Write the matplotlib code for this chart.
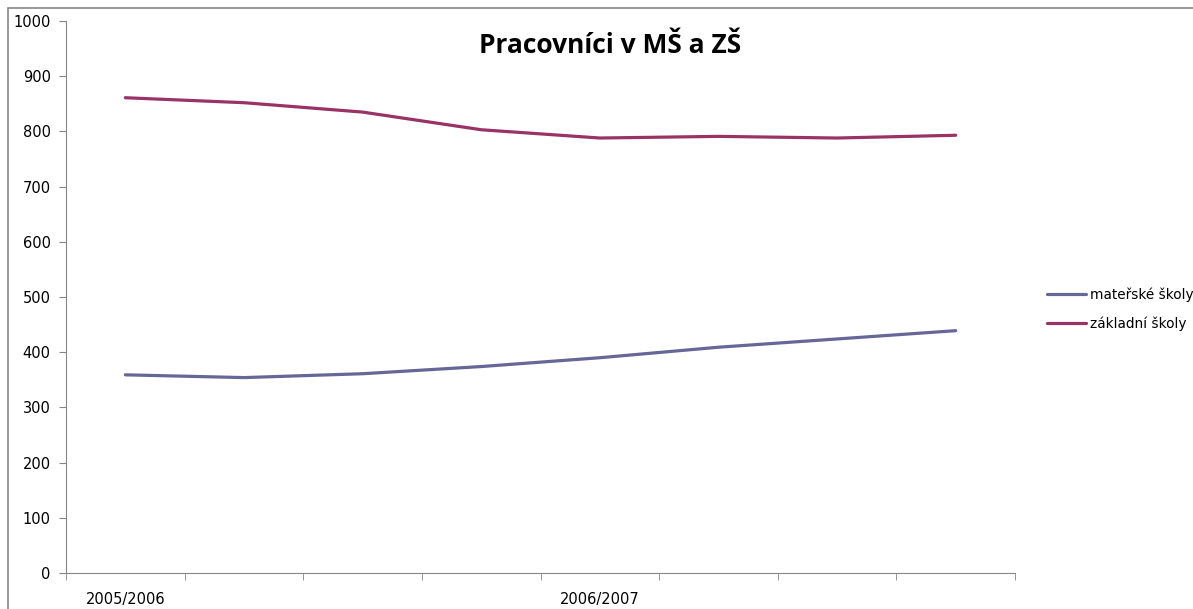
import matplotlib
matplotlib.use('Agg')
import matplotlib.pyplot as plt
from matplotlib.patches import Rectangle

# počty pracovníků podle období
periods = ['2005/2006', '', '', '', '2006/2007', '', '', '']
materske = [359, 354, 361, 374, 390, 409, 424, 439]
zakladni = [861, 852, 835, 803, 788, 791, 788, 793]

series_names = ['mateřské školy', 'základní školy']
series_colors = ['#666699', '#993366']

fig = plt.figure(figsize=(11.93, 6.09), dpi=100)
ax = fig.add_axes([66 / 1193, 36 / 609, 949 / 1193, 552 / 609])

x = list(range(len(periods)))
ax.plot(x, materske, color=series_colors[0], lw=2.3, label=series_names[0],
        solid_capstyle='round', solid_joinstyle='round')
ax.plot(x, zakladni, color=series_colors[1], lw=2.3, label=series_names[1],
        solid_capstyle='round', solid_joinstyle='round')

ax.set_xlim(-0.5, len(periods) - 0.5)
ax.set_ylim(0, 1000)
ax.set_yticks(range(0, 1001, 100))

# popisky kategorií uprostřed, značky na hranicích kategorií
ax.set_xticks(x)
ax.set_xticklabels(periods)
ax.set_xticks([i - 0.5 for i in range(len(periods) + 1)], minor=True)
ax.tick_params(axis='x', which='major', length=0, pad=14, labelsize=10.5)
ax.tick_params(axis='x', which='minor', length=5, color='#868686', direction='out')
ax.tick_params(axis='y', length=5, color='#868686', labelsize=10.5, pad=6)

for side in ['top', 'right']:
    ax.spines[side].set_visible(False)
for side in ['left', 'bottom']:
    ax.spines[side].set_color('#868686')

fig.text(0.511, 0.925, 'Pracovníci v MŠ a ZŠ', ha='center', va='center',
         fontsize=19, fontweight='bold', family='Open Sans')

ax.legend(loc='center left', bbox_to_anchor=(1.028, 0.478), frameon=False,
          fontsize=9.8, handlelength=2.9, handletextpad=0.25, labelspacing=1.1,
          borderaxespad=0)

# rámeček grafu
fig.patches.append(Rectangle((8 / 1193, -0.1), 1.1, 1 - 8 / 609 + 0.1,
                             transform=fig.transFigure, fill=False,
                             edgecolor='#888888', lw=1.2))

fig.savefig('out.png', dpi=100)
